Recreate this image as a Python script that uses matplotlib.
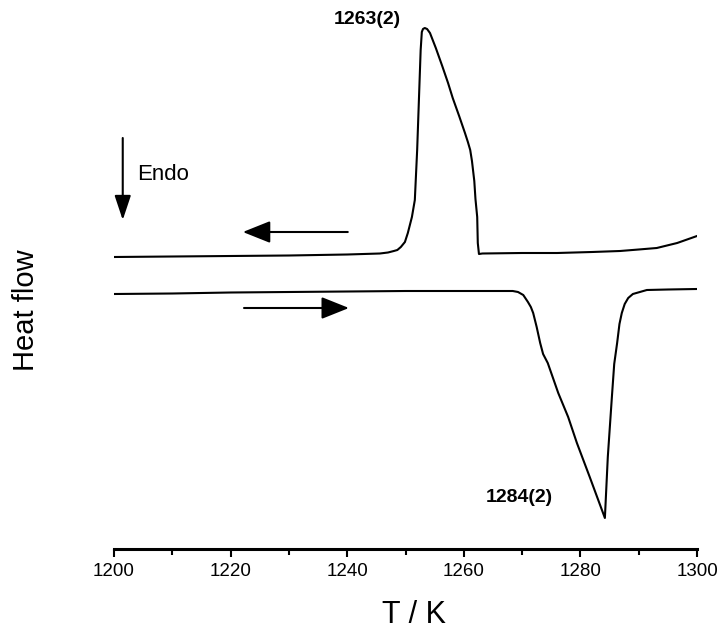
""" DSC trace: heating / cooling
"""
import matplotlib
matplotlib.use('Agg')
import matplotlib.pyplot as plt
from matplotlib.ticker import MultipleLocator

plt.rcParams['font.family'] = ['Liberation Sans', 'DejaVu Sans']

# cooling run (upper trace, exothermic peak)
T_cool = [1200, 1210, 1220, 1230, 1240, 1245.6, 1247.0, 1248.0, 1248.6, 1249.2,
          1249.9, 1250.4, 1251.1, 1251.6, 1252.0, 1252.3, 1252.6, 1252.8, 1253.0,
          1253.3, 1253.7, 1254.2, 1255.2, 1256.3, 1257.3, 1258.1, 1259.2, 1260.2,
          1260.7, 1261.1, 1261.4, 1261.8, 1262.0, 1262.3, 1262.4, 1262.6, 1263.2,
          1270, 1276, 1282, 1286.8, 1290, 1293.1, 1296.6, 1300]
hf_cool = [2.92, 2.925, 2.93, 2.935, 2.945, 2.955, 2.965, 2.98, 2.99, 3.02,
           3.07, 3.16, 3.32, 3.49, 3.99, 4.49, 4.99, 5.17, 5.20,
           5.21, 5.20, 5.16, 5.01, 4.83, 4.66, 4.51, 4.33, 4.16,
           4.07, 3.99, 3.88, 3.68, 3.50, 3.32, 3.06, 2.95, 2.955,
           2.96, 2.96, 2.97, 2.98, 2.995, 3.01, 3.06, 3.13]

# heating run (lower trace, endothermic dip)
T_heat = [1200, 1210, 1220, 1230, 1240, 1250, 1260, 1266, 1268.4, 1269.3,
          1270.2, 1271.0, 1271.5, 1271.9, 1272.5, 1273.1, 1273.6, 1274.4, 1276.2,
          1277.9, 1279.4, 1281.6, 1284.2, 1284.7, 1285.4, 1285.8, 1286.3, 1286.7,
          1287.1, 1287.6, 1288.2, 1289.0, 1290.2, 1291.4, 1295, 1300]
hf_heat = [2.55, 2.555, 2.565, 2.57, 2.575, 2.58, 2.58, 2.58, 2.58, 2.57,
           2.54, 2.47, 2.42, 2.36, 2.22, 2.06, 1.95, 1.86, 1.56,
           1.32, 1.06, 0.72, 0.31, 0.92, 1.52, 1.85, 2.06, 2.25,
           2.36, 2.45, 2.51, 2.55, 2.57, 2.59, 2.595, 2.60]

peak_labels = ['1263(2)', '1284(2)']
peak_label_xy = [(1243.4, 5.29), (1269.5, 0.52)]

fig = plt.figure(figsize=(7.21, 6.31), dpi=100)
ax = fig.add_axes([114/721, 82/631, 583/721, 549/631])

ax.plot(T_cool, hf_cool, color='k', lw=1.5)
ax.plot(T_heat, hf_heat, color='k', lw=1.5)

for lab, xy in zip(peak_labels, peak_label_xy):
    ax.text(xy[0], xy[1], lab, fontsize=14, fontweight='bold', ha='center', va='center')

# direction arrows
ax.annotate('', xy=(1222.1, 3.17), xytext=(1240.1, 3.17),
            arrowprops=dict(arrowstyle='-|>,head_length=0.85,head_width=0.34',
                            mutation_scale=20, color='k', lw=1.5, shrinkA=0, shrinkB=0))
ax.annotate('', xy=(1240.3, 2.41), xytext=(1222.3, 2.41),
            arrowprops=dict(arrowstyle='-|>,head_length=0.85,head_width=0.34',
                            mutation_scale=20, color='k', lw=1.5, shrinkA=0, shrinkB=0))
ax.annotate('', xy=(1201.5, 3.29), xytext=(1201.5, 4.11),
            arrowprops=dict(arrowstyle='-|>,head_length=0.75,head_width=0.25',
                            mutation_scale=20, color='k', lw=1.5, shrinkA=0, shrinkB=0))
ax.text(1203.9, 3.74, 'Endo', fontsize=16, ha='left', va='center')

ax.set_xlim(1200, 1300)
ax.set_ylim(0, 5.49)
ax.xaxis.set_major_locator(MultipleLocator(20))
ax.xaxis.set_minor_locator(MultipleLocator(10))
for s in ['left', 'top', 'right']:
    ax.spines[s].set_visible(False)
ax.spines['bottom'].set_linewidth(2.2)
ax.set_yticks([])
ax.tick_params(axis='x', which='major', length=6, width=1.5, labelsize=13.5, pad=4)
ax.tick_params(axis='x', which='minor', length=4, width=1.5)

ax.set_xlabel('T / K', fontsize=22, va='center')
ax.xaxis.set_label_coords(0.515, -0.12)
ax.set_ylabel('Heat flow', fontsize=21, va='center')
ax.yaxis.set_label_coords(-0.151, 0.435)

plt.savefig('out.png', dpi=100)
